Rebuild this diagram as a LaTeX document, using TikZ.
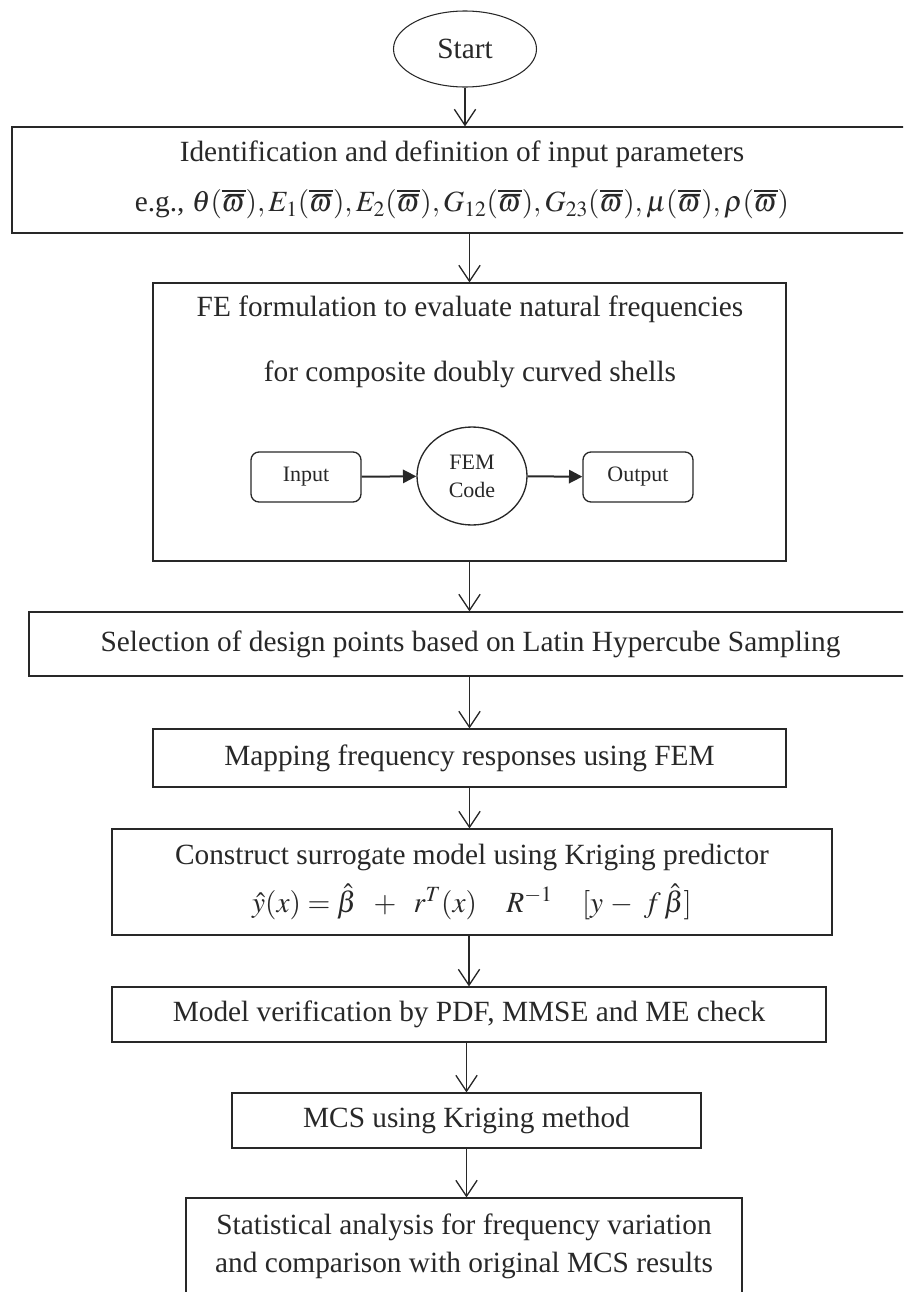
\documentclass[tikz,border=0pt]{standalone}
\usepackage{mathptmx}
\usepackage[no-math]{fontspec}
\setmainfont{Liberation Serif}
\usetikzlibrary{arrows.meta,shapes.geometric}
\definecolor{lineblack}{RGB}{40,40,40}
\newcommand{\px}{0.75pt}
\newcommand{\wbar}{(\overline{\varpi})}

\begin{document}
\begin{tikzpicture}[x=\px, y=-\px,
  box/.style={draw=lineblack, line width=0.8pt, rectangle, align=center, inner sep=0pt, text=lineblack, font=\fontsize{22}{38}\selectfont},
  smallbox/.style={box, rounded corners=6pt, line width=1pt, minimum width={110*\px}, minimum height={50*\px}, font=\fontsize{16.5}{20}\selectfont},
  oval/.style={box, ellipse},
  arrow/.style={-{Straight Barb[length=12pt,width=16pt]}, line width=1pt, draw=lineblack},
  flow/.style={-{Triangle[length=10pt,width=10pt]}, line width=1.5pt, draw=lineblack}
]
\useasboundingbox (0,0) rectangle (903,1292);
\clip (0,0) rectangle (903,1292);
\node[oval, minimum width={143*\px}, minimum height={76*\px}] (start) at (465,49) {Start};
\node[box, minimum width={900*\px}, minimum height={106*\px}] (ident) at (462,180)
  {Identification and definition of input parameters\\
   e.g., $\theta\wbar,E_1\wbar,E_2\wbar,G_{12}\wbar,G_{23}\wbar,\mu\wbar,\rho\wbar$};
\node[box, minimum width={633*\px}, minimum height={278*\px}] (fe) at (469.5,422) {};
\node[align=center, text=lineblack, font=\fontsize{22}{49}\selectfont] (fetitle) at (470,342)
  {FE formulation to evaluate natural frequencies\\for composite doubly curved shells};
\node[smallbox] (input) at (306,477) {Input};
\node[oval, line width=1pt, minimum width={110*\px}, minimum height={98*\px}, font=\fontsize{16.5}{21}\selectfont] (femcode) at (472,476) {FEM\\Code};
\node[smallbox] (output) at (638,477) {Output};
\node[box, minimum width={883*\px}, minimum height={64*\px}] (select) at (470.5,644)
  {Selection of design points based on Latin Hypercube Sampling};
\node[box, minimum width={633*\px}, minimum height={58*\px}] (mapping) at (469.5,758)
  {Mapping frequency responses using FEM};
\node[box, minimum width={720*\px}, minimum height={106*\px}, font=\fontsize{22}{36}\selectfont] (kriging) at (472,882)
  {Construct surrogate model using Kriging predictor\\
   $\hat{y}(x)=\hat{\beta}\;\;+\;\;r^{T}(x)\quad R^{-1}\quad[y\,-\;f\,\hat{\beta}]$};
\node[box, minimum width={714*\px}, minimum height={55*\px}] (verify) at (469,1014.5)
  {Model verification by PDF, MMSE and ME check};
\node[box, minimum width={469*\px}, minimum height={55*\px}] (mcs) at (466.5,1120.5)
  {MCS using Kriging method};
\node[box, minimum width={556*\px}, minimum height={96*\px}, font=\fontsize{22}{28.5}\selectfont] (stats) at (464,1246)
  {Statistical analysis for frequency variation\\and comparison with original MCS results};
\draw[arrow] (start.south) -- (start.south |- ident.north);
\draw[arrow] (fe.north |- ident.south) -- (fe.north);
\draw[arrow] (fe.south) -- (fe.south |- select.north);
\draw[arrow] (mapping.north |- select.south) -- (mapping.north);
\draw[arrow] (mapping.south) -- (mapping.south |- kriging.north);
\draw[arrow] (verify.north |- kriging.south) -- (verify.north);
\draw[arrow] (mcs.north |- verify.south) -- (mcs.north);
\draw[arrow] (mcs.south) -- (mcs.south |- stats.north);
\draw[flow] (input) -- (femcode);
\draw[flow] (femcode) -- (output);
\end{tikzpicture}
\end{document}
